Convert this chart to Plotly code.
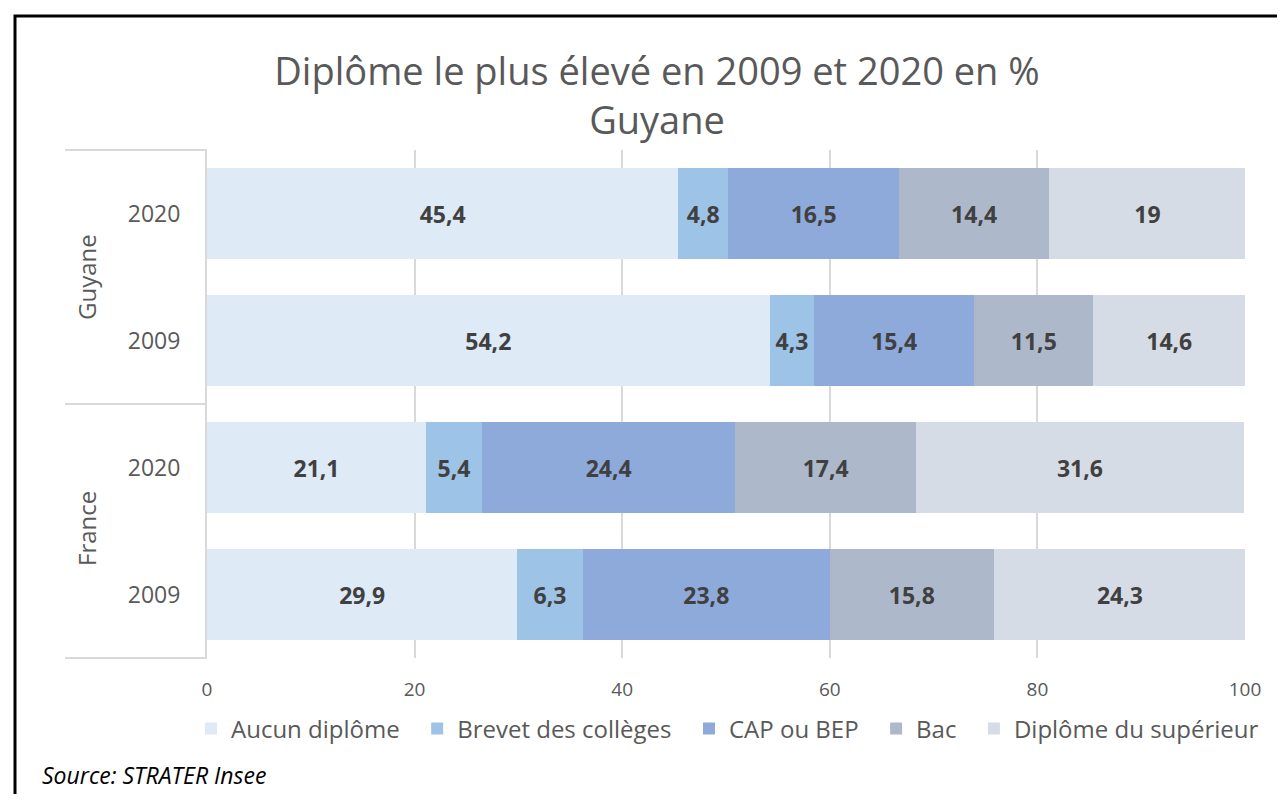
import plotly.graph_objects as go

categories = ["Guyane 2020", "Guyane 2009", "France 2020", "France 2009"]
year_labels = ["2020", "2009", "2020", "2009"]
groups = ["Guyane", "France"]
series_names = ["Aucun diplôme", "Brevet des collèges", "CAP ou BEP", "Bac", "Diplôme du supérieur"]
aucun = [45.4, 54.2, 21.1, 29.9]
brevet = [4.8, 4.3, 5.4, 6.3]
cap = [16.5, 15.4, 24.4, 23.8]
bac = [14.4, 11.5, 17.4, 15.8]
sup = [19, 14.6, 31.6, 24.3]
x_ticks = [0, 20, 40, 60, 80, 100]

colors = ["#deeaf6", "#9dc3e6", "#8eaadb", "#adb9ca", "#d6dce5"]
FONT = "Open Sans"
GREY = "#595959"
PAD = "\u00a0\u00a0"

def fr(v):
    return f"{v:g}".replace(".", ",")

fig = go.Figure()
for name, vals, col in zip(series_names, [aucun, brevet, cap, bac, sup], colors):
    fig.add_trace(go.Bar(
        y=categories, x=vals, name=name + PAD, orientation="h",
        marker=dict(color=col, line=dict(width=0)),
        text=[fr(v) for v in vals], textposition="inside",
        insidetextanchor="middle", textangle=0, constraintext="none",
        textfont=dict(family=FONT, size=23, color="#404040", weight="bold"),
        hoverinfo="skip",
    ))

# page offset (body margin) = 8 px
OFF = 8
W, H = 1285 - 2 * OFF, 802 - 2 * OFF
L, T = 207 - OFF, 150 - OFF
R = W - (1245 - OFF)
B = H - (658 - OFF)

def px(x):
    return (x - 207) / 1038

def py(y):
    return (658 - y) / 508

shapes = [
    dict(type="rect", xref="paper", yref="paper", x0=px(15), x1=px(1320), y0=py(16), y1=py(830),
         line=dict(color="black", width=3), fillcolor="rgba(0,0,0,0)", layer="above"),
]
for yy in [1.0, 0.5, 0.0]:
    shapes.append(dict(type="line", xref="paper", yref="paper", x0=px(65), x1=0, y0=yy, y1=yy,
                       line=dict(color="#d9d9d9", width=2)))

annotations = [
    dict(text=groups[0], xref="paper", yref="paper", x=px(86), y=py(277), textangle=-90,
         xanchor="center", yanchor="middle",
         showarrow=False, font=dict(family=FONT, size=24, color=GREY)),
    dict(text=groups[1], xref="paper", yref="paper", x=px(86), y=py(529), textangle=-90,
         xanchor="center", yanchor="middle",
         showarrow=False, font=dict(family=FONT, size=24, color=GREY)),
    dict(text="<i>Source: STRATER Insee</i>", xref="paper", yref="paper", x=px(40), y=py(775),
         xanchor="left", yanchor="middle", showarrow=False,
         font=dict(family=FONT, size=23, color="black")),
]

fig.update_layout(
    width=W, height=H,
    margin=dict(l=L, r=R, t=T, b=B),
    paper_bgcolor="white", plot_bgcolor="white",
    barmode="stack", bargap=0.29,
    title=dict(text="Diplôme le plus élevé en 2009 et 2020 en %<br>Guyane",
               x=(657 - OFF) / W, xanchor="center", y=1 - 77 / H, yanchor="top",
               font=dict(family=FONT, size=38, color=GREY)),
    xaxis=dict(range=[0, 100], tickvals=x_ticks, ticktext=[str(t) for t in x_ticks],
               showgrid=True, gridcolor="#d9d9d9", gridwidth=2, zeroline=False,
               showline=False, ticks="", ticklabelstandoff=18,
               tickfont=dict(family=FONT, size=19, color=GREY)),
    yaxis=dict(categoryorder="array", categoryarray=categories[::-1],
               tickvals=categories, ticktext=year_labels,
               showline=True, linecolor="#d9d9d9", linewidth=2, showgrid=False,
               ticks="", ticklabelstandoff=20,
               tickfont=dict(family=FONT, size=23, color=GREY)),
    legend=dict(orientation="h", x=px(191), xanchor="left", y=py(729), yanchor="middle",
                traceorder="normal", font=dict(family=FONT, size=24, color=GREY),
                itemwidth=30),
    shapes=shapes, annotations=annotations,
)

fig.write_html("out.html")
